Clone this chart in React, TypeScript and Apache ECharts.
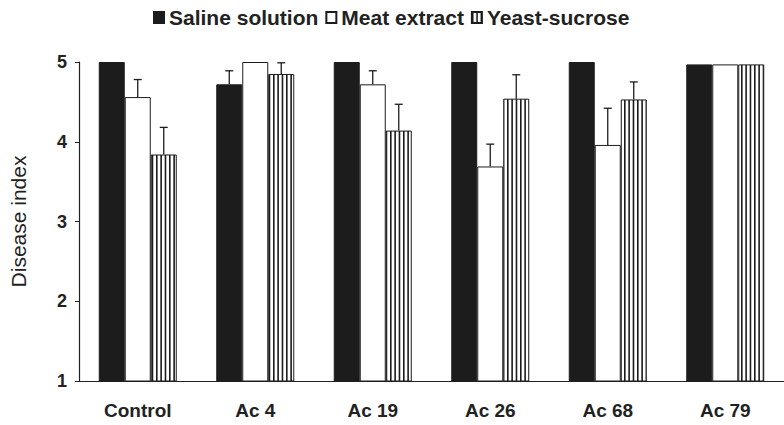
import React, { useEffect, useRef } from "react";
import * as echarts from "echarts";

const categories = ["Control", "Ac 4", "Ac 19", "Ac 26", "Ac 68", "Ac 79"];
const seriesNames = ["Saline solution", "Meat extract", "Yeast-sucrose"];
const saline = [5, 4.72, 5, 5, 5, 4.97];
const meat = [4.56, 5, 4.72, 3.69, 3.96, 4.97];
const yeast = [3.84, 4.85, 4.14, 4.54, 4.53, 4.97];
const salineErr = [0, 0.17, 0, 0, 0, 0];
const meatErr = [0.22, 0, 0.17, 0.28, 0.46, 0];
const yeastErr = [0.34, 0.14, 0.33, 0.3, 0.22, 0];
const yTicks = [1, 2, 3, 4, 5];

const BAR_W = 26;
const FONT = "'Liberation Sans', Arial, sans-serif";
const INK = "#1c1c1c";

function makeStripes() {
  const c = document.createElement("canvas");
  c.width = 13;
  c.height = 4;
  const ctx = c.getContext("2d")!;
  ctx.fillStyle = "#ffffff";
  ctx.fillRect(0, 0, 13, 4);
  ctx.fillStyle = INK;
  [0, 4.33, 8.67].forEach((x) => ctx.fillRect(x, 0, 1.6, 4));
  return c;
}

export default function App() {
  const ref = useRef<HTMLDivElement>(null);
  useEffect(() => {
    if (!ref.current) return;
    const chart = echarts.init(ref.current, undefined, { renderer: "svg" });
    const stripes = makeStripes();
    const values = [saline, meat, yeast];
    const errs = [salineErr, meatErr, yeastErr];
    const fills: any[] = [INK, "#ffffff", { image: stripes, repeat: "repeat" }];
    const errData: number[][] = [];
    values.forEach((arr, si) =>
      arr.forEach((v, ci) => errData.push([ci, v, errs[si][ci], si]))
    );
    chart.setOption({
      animation: false,
      legend: {
        data: seriesNames,
        top: 2,
        left: 148,
        icon: "rect",
        itemWidth: 10,
        itemHeight: 11,
        itemGap: 7,
        textStyle: { fontFamily: FONT, fontSize: 21, fontWeight: "bold", color: "#222" },
      },
      grid: { left: 79, top: 62, height: 319, width: 710.4, containLabel: false },
      xAxis: {
        type: "category",
        data: categories,
        axisLine: { lineStyle: { color: "#222", width: 1.2 } },
        axisTick: { length: 4, lineStyle: { color: "#222" } },
        axisLabel: { fontFamily: FONT, fontSize: 19, fontWeight: "bold", color: "#222", margin: 20 },
      },
      yAxis: {
        type: "value",
        min: yTicks[0],
        max: yTicks[yTicks.length - 1],
        interval: 1,
        name: "Disease index",
        nameLocation: "middle",
        nameGap: 50,
        nameTextStyle: { fontFamily: FONT, fontSize: 21, color: "#222" },
        splitLine: { show: false },
        axisLine: { show: true, lineStyle: { color: "#222", width: 1.2 } },
        axisTick: { show: true, length: 4, lineStyle: { color: "#222" } },
        axisLabel: { fontFamily: FONT, fontSize: 18, fontWeight: "bold", color: "#222", margin: 12 },
      },
      series: [
        ...seriesNames.map((name, si) => ({
          name,
          type: "bar",
          data: values[si],
          barWidth: BAR_W,
          barGap: "0%",
          itemStyle: { color: fills[si], borderColor: INK, borderWidth: 1 },
        })),
        {
          type: "custom",
          z: 5,
          clip: false,
          data: errData,
          encode: { x: 0, y: 1 },
          renderItem: (params: any, api: any) => {
            const cat = api.value(0);
            const val = api.value(1);
            const err = api.value(2);
            const idx = api.value(3);
            if (!err) return { type: "group", children: [] };
            const base = api.coord([cat, val]);
            const top = api.coord([cat, val + err]);
            const x = base[0] + (idx - 1) * BAR_W;
            const style = { stroke: INK, lineWidth: 1.3 };
            return {
              type: "group",
              children: [
                { type: "line", shape: { x1: x, y1: base[1], x2: x, y2: top[1] }, style },
                { type: "line", shape: { x1: x - 4, y1: top[1], x2: x + 4, y2: top[1] }, style },
              ],
            };
          },
        },
      ],
    });
    return () => chart.dispose();
  }, []);
  return (
    <div
      ref={ref}
      style={{ position: "absolute", left: 0, top: 0, width: 784, height: 425, background: "#fff" }}
    />
  );
}
